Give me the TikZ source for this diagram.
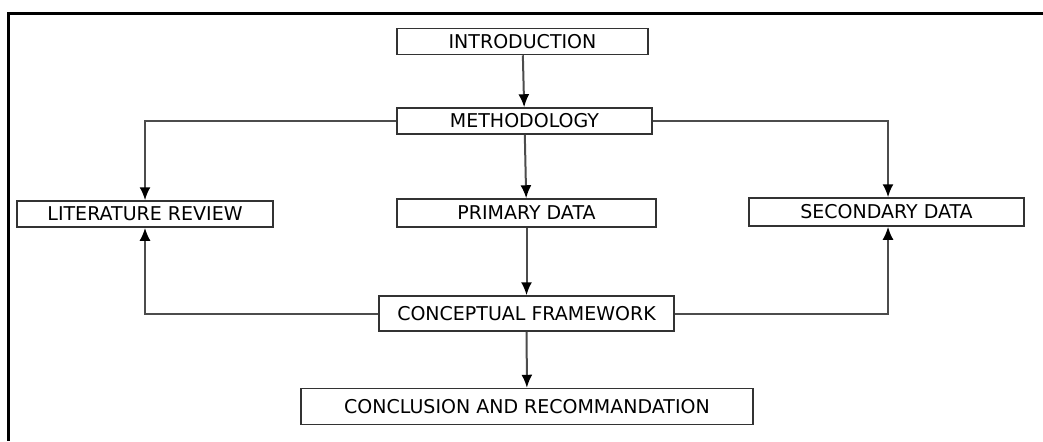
\documentclass[tikz,border=0pt]{standalone}
\usepackage{fontspec}
\setmainfont{DejaVu Sans}
\usepackage{tikz}
\usetikzlibrary{shapes,arrows,arrows.meta,positioning,calc}
\tikzset{
  stagebox/.style = {rectangle, align=center, inner sep=0pt, text centered, draw=black!80, line width=0.75pt, font=\fontsize{9.5}{11}\selectfont},
  stage_s/.style = {stagebox, minimum height=13pt},
  stage_l/.style = {stagebox, minimum height=18pt},
  link/.style = {draw=black!70, line width=1pt}
}
\begin{document}
\begin{tikzpicture}[x=0.5pt,y=-0.5pt,->,>={Latex[length=6.5pt,width=5.5pt,color=black]}]
  \useasboundingbox (0,0) rectangle (1043,441);
  % page frame (only top and left edges show)
  \draw[-,line width=1.5pt] (1043,13) -- (8,13) -- (8,441);
  % stages
  \node[stage_s, minimum width=125.5pt] (intro) at (522.5,41.5) {INTRODUCTION};
  \node[stage_s, minimum width=127.5pt] (meth) at (524.5,121) {METHODOLOGY};
  \node[stage_s, minimum width=128pt] (lit) at (145,214) {LITERATURE REVIEW};
  \node[stage_s, minimum width=129.5pt, minimum height=14pt] (prim) at (526.5,213) {PRIMARY DATA};
  \node[stage_s, minimum width=137.5pt, minimum height=14pt] (sec) at (886.5,212) {SECONDARY DATA};
  \node[stage_l, minimum width=147.5pt, minimum height=17.5pt] (frame) at (526.5,313.5) {CONCEPTUAL FRAMEWORK};
  \node[stage_l, minimum width=226pt] (concl) at (527,406.5) {CONCLUSION AND RECOMMANDATION};
  % links
  \draw[link] (intro) -- (meth);
  \draw[link] (meth.west) -| (lit.north);
  \draw[link] (meth) -- (prim);
  \draw[link] (meth.east) -| ($(sec.north)+(1.5,0)$);
  \draw[link] (prim) -- (frame);
  \draw[link] (frame.west) -| (lit.south);
  \draw[link] (frame.east) -| ($(sec.south)+(1.5,0)$);
  \draw[link] (frame) -- (concl);
\end{tikzpicture}
\end{document}
